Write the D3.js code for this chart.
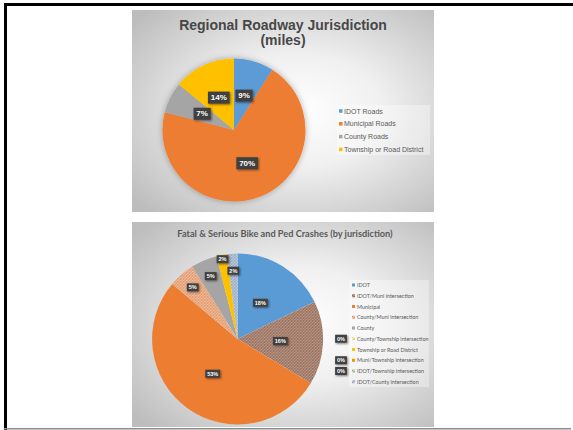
<!DOCTYPE html>
<html>
<head>
<meta charset="utf-8">
<script src="https://cdn.jsdelivr.net/npm/d3@7"></script>
<style>
body { margin: 0; background: #fff; }
svg { display: block; }
</style>
</head>
<body>
<svg id="page" width="573" height="430"></svg>
<script>
var roadCategories = ["IDOT Roads", "Municipal Roads", "County Roads", "Township or Road District"]
var roadShares = [9, 70, 7, 14]

var crashCategories = ["IDOT", "IDOT/Muni intersection", "Municipal", "County/Muni intersection", "County",
    "County/Township intersection", "Township or Road District", "Muni/Township intersection",
    "IDOT/Township intersection", "IDOT/County intersection"]
var crashShares = [18, 16, 53, 5, 5, 0, 2, 0, 0, 2]

var roadColors = ["#5b9bd5", "#ed7d31", "#a5a5a5", "#ffc000"]
var crashColors = ["#5b9bd5", "url(#hatchBrown)", "#ed7d31", "url(#hatchOrange)", "#a5a5a5",
    "url(#hatchYellow)", "#ffc000", "#e69a00", "url(#hatchGreen)", "url(#hatchBlue)"]

var svg = d3.select("#page")
var defs = svg.append("defs")

var grad = defs.append("radialGradient").attr("id", "panelBg").attr("cx", "55%").attr("cy", "50%").attr("r", "70%")
grad.append("stop").attr("offset", "0").attr("stop-color", "#ffffff")
grad.append("stop").attr("offset", "0.4").attr("stop-color", "#f0f0f0")
grad.append("stop").attr("offset", "1").attr("stop-color", "#bdbdbd")

var sh = defs.append("filter").attr("id", "boxShadow").attr("x", "-50%").attr("y", "-50%").attr("width", "200%").attr("height", "200%")
sh.append("feDropShadow").attr("dx", 1).attr("dy", 1).attr("stdDeviation", 0.8).attr("flood-color", "#000").attr("flood-opacity", 0.5)
var glow = defs.append("filter").attr("id", "pieShadow").attr("x", "-20%").attr("y", "-20%").attr("width", "140%").attr("height", "140%")
glow.append("feDropShadow").attr("dx", 0).attr("dy", 0).attr("stdDeviation", 3).attr("flood-color", "#000").attr("flood-opacity", 0.3)

function hatch(id, bg, fg) {
    var p = defs.append("pattern").attr("id", id).attr("patternUnits", "userSpaceOnUse").attr("width", 3).attr("height", 3)
    p.append("rect").attr("width", 3).attr("height", 3).attr("fill", bg)
    p.append("path").attr("d", "M0,3 L3,0 M-1,1 L1,-1 M2,4 L4,2").attr("stroke", fg).attr("stroke-width", 0.7)
    p.append("path").attr("d", "M0,0 L3,3 M-1,2 L1,4 M2,-1 L4,1").attr("stroke", fg).attr("stroke-width", 0.4)
}
hatch("hatchBrown", "#b8998a", "#85563f")
hatch("hatchOrange", "#efbf9f", "#d9834f")
hatch("hatchYellow", "#eef0b8", "#c8c860")
hatch("hatchGreen", "#c9dcb8", "#7fa060")
hatch("hatchBlue", "#c3cedd", "#7d92b5")

// page frame
svg.append("rect").attr("x", 4).attr("y", 3).attr("width", 569).attr("height", 3).attr("fill", "#000")
svg.append("rect").attr("x", 4).attr("y", 3).attr("width", 3).attr("height", 427).attr("fill", "#000")
svg.append("rect").attr("x", 4).attr("y", 428).attr("width", 567).attr("height", 1.5).attr("fill", "#8c8c8c")

var pie = d3.pie().sort(null).value(function(d) { return d })

function dataLabel(x, y, txt, fs, h) {
    var g = svg.append("g")
    var r = g.append("rect").attr("fill", "#404040").attr("filter", "url(#boxShadow)")
    var t = g.append("text").attr("x", x).attr("y", y).attr("text-anchor", "middle").attr("dominant-baseline", "central")
        .attr("font-family", "Liberation Sans, Arial, sans-serif").attr("font-weight", "bold")
        .attr("font-size", fs).attr("fill", "#fff").text(txt)
    var w = t.node().getComputedTextLength() + fs * 0.7
    r.attr("x", x - w / 2).attr("y", y - h / 2).attr("width", w).attr("height", h)
    return {x: x - w / 2, y: y - h / 2, w: w, h: h}
}

// ---- chart 1
svg.append("rect").attr("x", 132).attr("y", 10).attr("width", 302).attr("height", 202).attr("fill", "url(#panelBg)")
svg.append("text").attr("x", 283).attr("y", 30).attr("text-anchor", "middle")
    .attr("font-family", "Liberation Sans, Arial, sans-serif").attr("font-weight", "bold").attr("font-size", 14)
    .attr("fill", "#474747").text("Regional Roadway Jurisdiction")
svg.append("text").attr("x", 283).attr("y", 45).attr("text-anchor", "middle")
    .attr("font-family", "Liberation Sans, Arial, sans-serif").attr("font-weight", "bold").attr("font-size", 14)
    .attr("fill", "#474747").text("(miles)")

var cx1 = 234, cy1 = 130, r1 = 71.5
var arc1 = d3.arc().innerRadius(0).outerRadius(r1)
var lab1 = d3.arc().innerRadius(r1 * 0.5).outerRadius(r1 * 0.5)
var g1 = svg.append("g").attr("transform", "translate(" + cx1 + "," + cy1 + ")").attr("filter", "url(#pieShadow)")
g1.selectAll("path").data(pie(roadShares)).join("path")
    .attr("d", arc1).attr("fill", function(d, i) { return roadColors[i] })
pie(roadShares).forEach(function(d) {
    var c = lab1.centroid(d)
    dataLabel(cx1 + c[0], cy1 + c[1], d.data + "%", 8, 12)
})

svg.append("rect").attr("x", 337).attr("y", 105).attr("width", 93).attr("height", 50).attr("fill", "#fff").attr("opacity", 0.35)
var leg1 = svg.append("g")
roadCategories.forEach(function(c, i) {
    var y = 111 + i * 12.8
    leg1.append("rect").attr("x", 339).attr("y", y - 1.75).attr("width", 3.5).attr("height", 3.5).attr("fill", roadColors[i])
    leg1.append("text").attr("x", 344).attr("y", y).attr("dominant-baseline", "central")
        .attr("font-family", "Liberation Sans, Arial, sans-serif").attr("font-size", 7).attr("fill", "#595959").text(c)
})

// ---- chart 2
svg.append("rect").attr("x", 132).attr("y", 222).attr("width", 302).attr("height", 205).attr("fill", "url(#panelBg)")
svg.append("text").attr("x", 285).attr("y", 237).attr("text-anchor", "middle")
    .attr("font-family", "Lato, sans-serif").attr("font-weight", "bold").attr("font-size", 9.2)
    .attr("fill", "#595959").text("Fatal & Serious Bike and Ped Crashes (by jurisdiction)")

var cx2 = 237.6, cy2 = 339, r2 = 85.5
var arc2 = d3.arc().innerRadius(0).outerRadius(r2)
var g2 = svg.append("g").attr("transform", "translate(" + cx2 + "," + cy2 + ")")
var slices2 = pie(crashShares)
g2.selectAll("path").data(slices2).join("path")
    .attr("d", arc2).attr("fill", function(d, i) { return crashColors[i] })

var legX = 349, legY = 285, legStep = 10.75
svg.append("rect").attr("x", legX).attr("y", 280).attr("width", 80).attr("height", 107).attr("fill", "#fff").attr("opacity", 0.35)
crashCategories.forEach(function(c, i) {
    var y = legY + i * legStep
    svg.append("rect").attr("x", legX + 3).attr("y", y - 1.5).attr("width", 3).attr("height", 3).attr("fill", crashColors[i])
    svg.append("text").attr("x", legX + 8).attr("y", y).attr("dominant-baseline", "central")
        .attr("font-family", "Lato, sans-serif").attr("font-size", 5.4).attr("fill", "#595959").text(c)
})

// labels: big slices mid-radius, small ones near the rim, pushed out when they collide
var boxes = []
for (var i = slices2.length - 1; i >= 0; i--) {
    var d = slices2[i]
    if (d.data === 0) {
        boxes.push(dataLabel(legX - 8, legY + i * legStep, "0%", 5.5, 8))
        continue
    }
    var k = d.data >= 10 ? 0.5 : 0.8
    var a = (d.startAngle + d.endAngle) / 2
    var x, y, hit
    do {
        x = cx2 + Math.sin(a) * r2 * k
        y = cy2 - Math.cos(a) * r2 * k
        hit = boxes.some(function(b) { return Math.abs(b.x + b.w / 2 - x) < b.w && Math.abs(b.y + b.h / 2 - y) < b.h })
        k += 0.05
    } while (hit && k < 1.3)
    boxes.push(dataLabel(x, y, d.data + "%", 5.5, 8))
}
</script>
</body>
</html>
